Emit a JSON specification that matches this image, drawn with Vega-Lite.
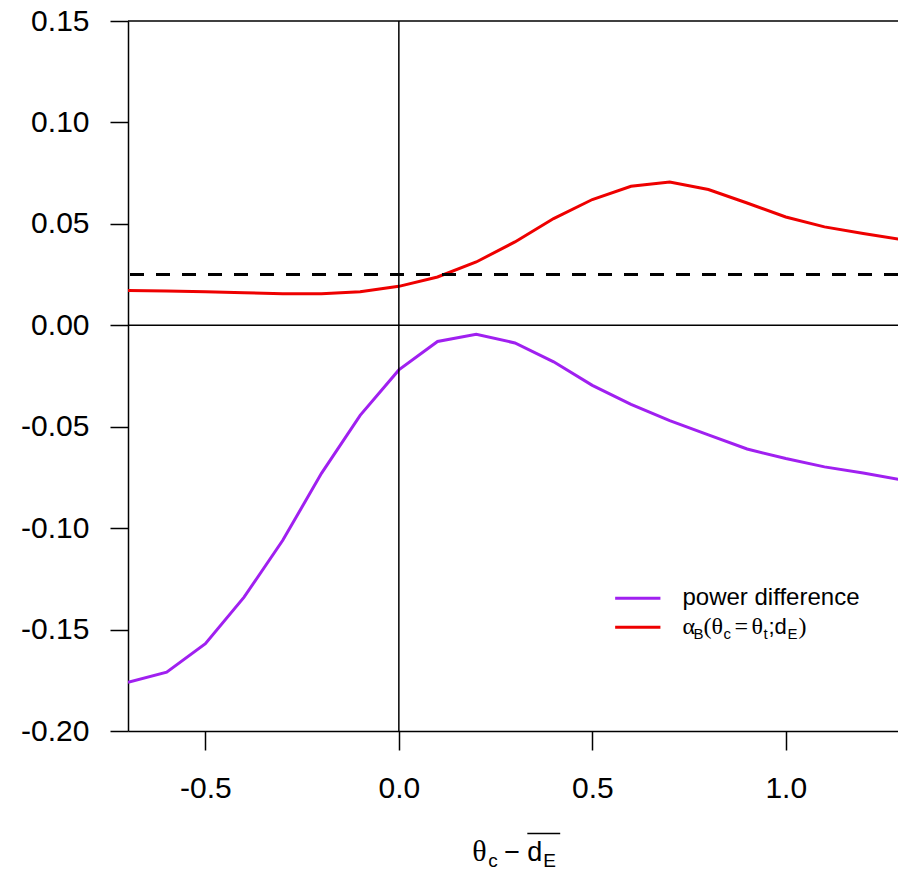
{
  "$schema": "https://vega.github.io/schema/vega-lite/v6.json",
  "autosize": {"type": "none"},
  "padding": {"left": 128, "top": 21, "right": 0, "bottom": 143},
  "width": 770,
  "height": 710,
  "background": "white",
  "config": {"view": {"stroke": null}},
  "datasets": {
    "curves": [
      {"x": -0.7, "value": -0.176, "series": "power difference"},
      {"x": -0.6, "value": -0.171, "series": "power difference"},
      {"x": -0.5, "value": -0.157, "series": "power difference"},
      {"x": -0.4, "value": -0.134, "series": "power difference"},
      {"x": -0.3, "value": -0.106, "series": "power difference"},
      {"x": -0.2, "value": -0.073, "series": "power difference"},
      {"x": -0.1, "value": -0.0444, "series": "power difference"},
      {"x": 0.0, "value": -0.022, "series": "power difference"},
      {"x": 0.1, "value": -0.008, "series": "power difference"},
      {"x": 0.2, "value": -0.0044, "series": "power difference"},
      {"x": 0.3, "value": -0.0087, "series": "power difference"},
      {"x": 0.4, "value": -0.018, "series": "power difference"},
      {"x": 0.5, "value": -0.0296, "series": "power difference"},
      {"x": 0.6, "value": -0.039, "series": "power difference"},
      {"x": 0.7, "value": -0.047, "series": "power difference"},
      {"x": 0.8, "value": -0.054, "series": "power difference"},
      {"x": 0.9, "value": -0.061, "series": "power difference"},
      {"x": 1.0, "value": -0.0657, "series": "power difference"},
      {"x": 1.1, "value": -0.0698, "series": "power difference"},
      {"x": 1.2, "value": -0.0728, "series": "power difference"},
      {"x": 1.3, "value": -0.0762, "series": "power difference"},
      {"x": -0.7, "value": 0.0172, "series": "alpha"},
      {"x": -0.6, "value": 0.0169, "series": "alpha"},
      {"x": -0.5, "value": 0.0165, "series": "alpha"},
      {"x": -0.4, "value": 0.0161, "series": "alpha"},
      {"x": -0.3, "value": 0.0155, "series": "alpha"},
      {"x": -0.2, "value": 0.0156, "series": "alpha"},
      {"x": -0.1, "value": 0.0165, "series": "alpha"},
      {"x": 0.0, "value": 0.0192, "series": "alpha"},
      {"x": 0.1, "value": 0.0238, "series": "alpha"},
      {"x": 0.2, "value": 0.0312, "series": "alpha"},
      {"x": 0.3, "value": 0.0411, "series": "alpha"},
      {"x": 0.4, "value": 0.0526, "series": "alpha"},
      {"x": 0.5, "value": 0.062, "series": "alpha"},
      {"x": 0.6, "value": 0.0685, "series": "alpha"},
      {"x": 0.7, "value": 0.0706, "series": "alpha"},
      {"x": 0.8, "value": 0.0669, "series": "alpha"},
      {"x": 0.9, "value": 0.0603, "series": "alpha"},
      {"x": 1.0, "value": 0.0534, "series": "alpha"},
      {"x": 1.1, "value": 0.0485, "series": "alpha"},
      {"x": 1.2, "value": 0.0452, "series": "alpha"},
      {"x": 1.3, "value": 0.0422, "series": "alpha"}
    ],
    "one": [{}]
  },
  "layer": [
    {
      "data": {"name": "curves"},
      "mark": {"type": "line", "strokeWidth": 3, "clip": true},
      "encoding": {
        "x": {
          "field": "x", "type": "quantitative",
          "scale": {"domain": [-0.7, 1.29], "nice": false, "zero": false},
          "axis": {
            "values": [-0.5, 0, 0.5, 1],
            "labelExpr": "(datum.value < 0 ? '-' : '') + format(abs(datum.value), '.1f')",
            "title": null, "grid": false,
            "labelFont": "Liberation Sans", "labelFontSize": 30, "labelColor": "black",
            "labelPadding": 23, "labelFlush": false,
            "tickSize": 19, "tickWidth": 1.5, "tickColor": "black",
            "domainColor": "black", "domainWidth": 1.5
          }
        },
        "y": {
          "field": "value", "type": "quantitative",
          "scale": {"domain": [-0.2, 0.15], "nice": false, "zero": false},
          "axis": {
            "values": [-0.2, -0.15, -0.1, -0.05, 0, 0.05, 0.1, 0.15],
            "labelExpr": "(datum.value < 0 ? '-' : '') + format(abs(datum.value), '.2f')",
            "title": null, "grid": false,
            "labelFont": "Liberation Sans", "labelFontSize": 30, "labelColor": "black",
            "labelPadding": 21, "labelOverlap": false,
            "tickSize": 18, "tickWidth": 1.5, "tickColor": "black",
            "domainColor": "black", "domainWidth": 1.5
          }
        },
        "color": {
          "field": "series", "type": "nominal",
          "scale": {"domain": ["power difference", "alpha"], "range": ["#A020F0", "#EE0000"]},
          "legend": null
        },
        "detail": {"field": "series"}
      }
    },
    {
      "data": {"name": "one"},
      "mark": {"type": "rule", "color": "black", "strokeWidth": 1.5},
      "encoding": {"y": {"datum": 0}}
    },
    {
      "data": {"name": "one"},
      "mark": {"type": "rule", "color": "black", "strokeWidth": 1.5},
      "encoding": {"x": {"datum": 0}}
    },
    {
      "data": {"name": "one"},
      "mark": {"type": "rule", "color": "black", "strokeWidth": 1.5},
      "encoding": {"y": {"datum": 0.15}}
    },
    {
      "data": {"name": "one"},
      "mark": {"type": "rule", "color": "black", "strokeWidth": 3, "strokeDash": [14, 12]},
      "encoding": {"y": {"datum": 0.025}}
    },
    {
      "data": {"name": "one"},
      "mark": {"type": "rule", "color": "#A020F0", "strokeWidth": 3},
      "encoding": {"x": {"datum": 0.559}, "x2": {"datum": 0.676}, "y": {"datum": -0.1345}}
    },
    {
      "data": {"name": "one"},
      "mark": {"type": "rule", "color": "#EE0000", "strokeWidth": 3},
      "encoding": {"x": {"datum": 0.559}, "x2": {"datum": 0.676}, "y": {"datum": -0.1488}}
    },
    {
      "data": {"name": "one"},
      "mark": {"type": "text", "text": "power difference", "align": "left", "baseline": "middle", "font": "Liberation Sans", "fontSize": 24, "color": "black"},
      "encoding": {"x": {"datum": 0.733}, "y": {"datum": -0.1345}}
    },
    {
      "data": {"name": "one"},
      "layer": [
        {"mark": {"type": "text", "text": "α", "align": "left", "baseline": "alphabetic", "font": "Liberation Serif", "fontSize": 24, "color": "black"}, "encoding": {"x": {"datum": 0.733}, "y": {"datum": -0.1523}}},
        {"mark": {"type": "text", "text": "B", "align": "left", "baseline": "alphabetic", "font": "Liberation Sans", "fontSize": 15, "dx": 11, "dy": 5, "color": "black"}, "encoding": {"x": {"datum": 0.733}, "y": {"datum": -0.1523}}},
        {"mark": {"type": "text", "text": "(θ", "align": "left", "baseline": "alphabetic", "font": "Liberation Serif", "fontSize": 24, "dx": 21, "color": "black"}, "encoding": {"x": {"datum": 0.733}, "y": {"datum": -0.1523}}},
        {"mark": {"type": "text", "text": "c", "align": "left", "baseline": "alphabetic", "font": "Liberation Sans", "fontSize": 15, "dx": 41, "dy": 5, "color": "black"}, "encoding": {"x": {"datum": 0.733}, "y": {"datum": -0.1523}}},
        {"mark": {"type": "text", "text": "=", "align": "left", "baseline": "alphabetic", "font": "Liberation Serif", "fontSize": 24, "dx": 52, "color": "black"}, "encoding": {"x": {"datum": 0.733}, "y": {"datum": -0.1523}}},
        {"mark": {"type": "text", "text": "θ", "align": "left", "baseline": "alphabetic", "font": "Liberation Serif", "fontSize": 24, "dx": 69, "color": "black"}, "encoding": {"x": {"datum": 0.733}, "y": {"datum": -0.1523}}},
        {"mark": {"type": "text", "text": "t", "align": "left", "baseline": "alphabetic", "font": "Liberation Sans", "fontSize": 15, "dx": 81, "dy": 5, "color": "black"}, "encoding": {"x": {"datum": 0.733}, "y": {"datum": -0.1523}}},
        {"mark": {"type": "text", "text": ";d", "align": "left", "baseline": "alphabetic", "font": "Liberation Sans", "fontSize": 22, "dx": 86, "color": "black"}, "encoding": {"x": {"datum": 0.733}, "y": {"datum": -0.1523}}},
        {"mark": {"type": "text", "text": "E", "align": "left", "baseline": "alphabetic", "font": "Liberation Sans", "fontSize": 15, "dx": 105, "dy": 5, "color": "black"}, "encoding": {"x": {"datum": 0.733}, "y": {"datum": -0.1523}}},
        {"mark": {"type": "text", "text": ")", "align": "left", "baseline": "alphabetic", "font": "Liberation Serif", "fontSize": 24, "dx": 116, "color": "black"}, "encoding": {"x": {"datum": 0.733}, "y": {"datum": -0.1523}}}
      ]
    },
    {
      "data": {"name": "one"},
      "layer": [
        {"mark": {"type": "text", "text": "θ", "align": "left", "baseline": "alphabetic", "font": "Liberation Serif", "fontSize": 30, "color": "black"}, "encoding": {"x": {"datum": 0.19}, "y": {"datum": -0.2642}}},
        {"mark": {"type": "text", "text": "c", "align": "left", "baseline": "alphabetic", "font": "Liberation Sans", "fontSize": 19, "dx": 16, "dy": 6, "color": "black"}, "encoding": {"x": {"datum": 0.19}, "y": {"datum": -0.2642}}},
        {"mark": {"type": "text", "text": "−", "align": "left", "baseline": "alphabetic", "font": "Liberation Sans", "fontSize": 27, "dx": 32, "color": "black"}, "encoding": {"x": {"datum": 0.19}, "y": {"datum": -0.2642}}},
        {"mark": {"type": "text", "text": "d", "align": "left", "baseline": "alphabetic", "font": "Liberation Sans", "fontSize": 27, "dx": 55, "color": "black"}, "encoding": {"x": {"datum": 0.19}, "y": {"datum": -0.2642}}},
        {"mark": {"type": "text", "text": "E", "align": "left", "baseline": "alphabetic", "font": "Liberation Sans", "fontSize": 19, "dx": 71, "dy": 6, "color": "black"}, "encoding": {"x": {"datum": 0.19}, "y": {"datum": -0.2642}}},
        {"mark": {"type": "rule", "color": "black", "strokeWidth": 1.5}, "encoding": {"x": {"datum": 0.332}, "x2": {"datum": 0.417}, "y": {"datum": -0.2505}}}
      ]
    }
  ]
}
